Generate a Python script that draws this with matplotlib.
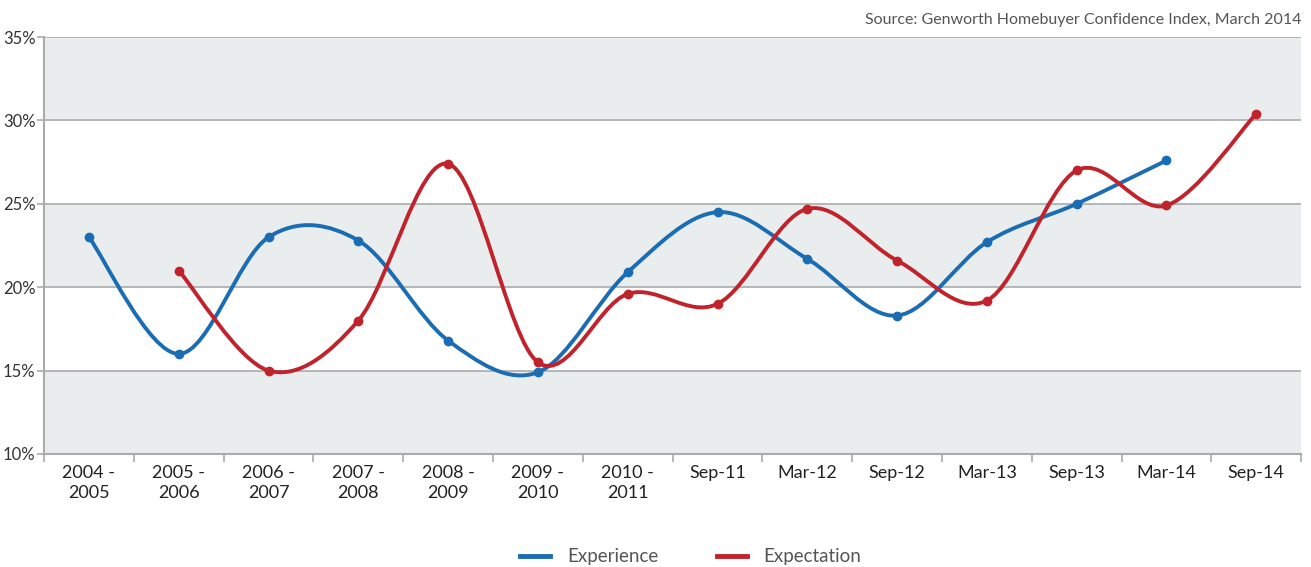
import matplotlib.pyplot as plt
from matplotlib.path import Path
from matplotlib.patches import PathPatch
from matplotlib.lines import Line2D
import numpy as np

plt.rcParams['font.family'] = ['Lato', 'DejaVu Sans']

categories = ['2004 -\n2005', '2005 -\n2006', '2006 -\n2007', '2007 -\n2008',
              '2008 -\n2009', '2009 -\n2010', '2010 -\n2011', 'Sep-11', 'Mar-12',
              'Sep-12', 'Mar-13', 'Sep-13', 'Mar-14', 'Sep-14']
experience = [23.0, 16.0, 23.0, 22.8, 16.8, 14.9, 20.9, 24.5, 21.7, 18.3, 22.7, 25.0, 27.6, None]
expectation = [None, 21.0, 15.0, 18.0, 27.4, 15.5, 19.6, 19.0, 24.7, 21.6, 19.2, 27.0, 24.9, 30.4]

BLUE = '#1b6db3'
RED = '#c1232d'
GRID = '#a9abab'
BAND = '#e9edee'


def smooth_path(xs, ys):
    # excel-style smoothed line: cubic bezier through every point
    pts = np.column_stack([xs, ys])
    verts = [pts[0]]
    codes = [Path.MOVETO]
    n = len(pts)
    for i in range(n - 1):
        p0 = pts[i - 1] if i > 0 else pts[i]
        p1 = pts[i]
        p2 = pts[i + 1]
        p3 = pts[i + 2] if i + 2 < n else pts[i + 1]
        c1 = p1 + (p2 - p0) / 6.0
        c2 = p2 - (p3 - p1) / 6.0
        verts += [c1, c2, p2]
        codes += [Path.CURVE4] * 3
    return Path(verts, codes)


def draw_series(ax, values, color):
    xs = [i for i, v in enumerate(values) if v is not None]
    ys = [v for v in values if v is not None]
    patch = PathPatch(smooth_path(xs, ys), facecolor='none', edgecolor=color,
                      lw=2.8, capstyle='round', joinstyle='round', zorder=3)
    ax.add_patch(patch)
    ax.plot(xs, ys, 'o', color=color, ms=6, zorder=4)


fig = plt.figure(figsize=(13.11, 5.67), dpi=100)
ax = fig.add_axes([0.0336, 0.1993, 0.9589, 0.7354])

# alternating bands
for lo in (10, 20, 30):
    ax.axhspan(lo, lo + 5, color=BAND, lw=0, zorder=0)
for y in (15, 20, 25, 30, 35):
    ax.axhline(y, color=GRID, lw=1.2, zorder=1)

draw_series(ax, experience, BLUE)
draw_series(ax, expectation, RED)

ax.set_xlim(-0.5, len(categories) - 0.5)
ax.set_ylim(10, 35)
ax.set_yticks([10, 15, 20, 25, 30, 35])
ax.set_yticklabels(['10%', '15%', '20%', '25%', '30%', '35%'], fontsize=12, color='#333333')
ax.set_xticks(range(len(categories)))
ax.set_xticklabels(categories, fontsize=13, color='#222222', va='top', linespacing=1.3)
ax.set_xticks(np.arange(-0.5, len(categories)), minor=True)
ax.tick_params(axis='x', which='major', length=0, pad=8)
ax.tick_params(axis='x', which='minor', length=6, color=GRID, width=1.2)
ax.tick_params(axis='y', length=5, color=GRID, width=1.2, pad=1)

for s in ('top', 'right'):
    ax.spines[s].set_visible(False)
for s in ('left', 'bottom'):
    ax.spines[s].set_color(GRID)
    ax.spines[s].set_linewidth(1.5)

fig.text(0.9924, 0.965, 'Source: Genworth Homebuyer Confidence Index, March 2014',
         ha='right', va='center', fontsize=11.5, color='#555555')

handles = [Line2D([], [], color=BLUE, lw=3.5), Line2D([], [], color=RED, lw=3.5)]
fig.legend(handles, ['Experience', 'Expectation'], loc='center', bbox_to_anchor=(0.527, 0.018),
           ncol=2, frameon=False, fontsize=13.5, handlelength=1.6, handletextpad=0.9,
           columnspacing=3.1, labelcolor='#555555')

fig.savefig('out.png', dpi=100)
